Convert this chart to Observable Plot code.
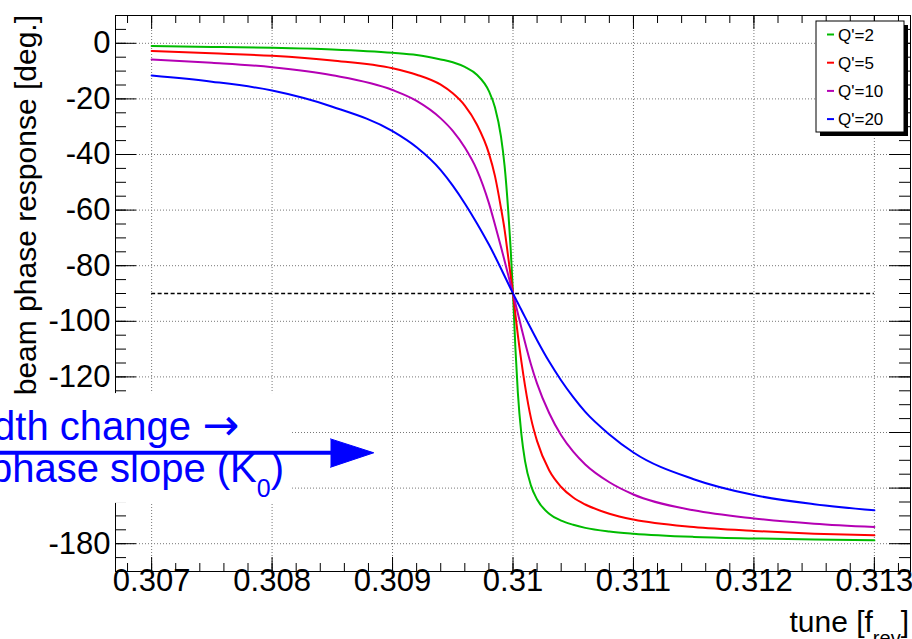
<!DOCTYPE html>
<html><head><meta charset="utf-8">
<script src="https://cdn.jsdelivr.net/npm/d3@7"></script>
<script src="https://cdn.jsdelivr.net/npm/@observablehq/plot@0.6"></script>
<style>
html,body{margin:0;padding:0;background:#fff;}
#chart{width:912px;height:639px;overflow:hidden;position:relative;}
svg{display:block;}
</style></head><body><div id="chart"></div>
<script>
// ---- data ----
const tune = [0.307, 0.3075, 0.308, 0.3085, 0.309, 0.3092, 0.3094, 0.3095, 0.3096, 0.3097, 0.3098, 0.30985, 0.3099, 0.30993, 0.30996, 0.30998, 0.31, 0.31002, 0.31004, 0.31007, 0.3101, 0.31015, 0.3102, 0.3103, 0.3104, 0.3105, 0.3106, 0.3108, 0.311, 0.3115, 0.312, 0.3125, 0.313];
const phaseQ2 = [-1.0,-1.3,-1.6,-2.2,-3.4,-4.2,-5.8,-6.8,-8.5,-11.3,-17.2,-23,-33.5,-44,-60,-73.5,-90,-109.7,-125.5,-140.8,-150.3,-159.2,-164.1,-169.2,-171.7,-173.2,-174.3,-175.6,-176.4,-177.55,-178.1,-178.5,-178.8];
const phaseQ5 = [-2.8,-3.6,-4.5,-6.2,-9.0,-11.3,-14.9,-18,-22.4,-29.2,-39.6,-47.7,-59.2,-67,-76.8,-83.4,-90,-97.6,-104.9,-114.6,-123.2,-135,-143.1,-153.6,-159.6,-163.4,-165.9,-169.2,-171.3,-174,-175.4,-176.4,-177];
const phaseQ10 = [-5.8,-7.0,-8.6,-11.5,-16.8,-20.7,-27,-31.5,-37.5,-45.5,-57.5,-65.2,-73.2,-78.2,-83.3,-86.7,-90,-93.6,-97.1,-102.4,-107.6,-115.6,-122.4,-133,-141,-146.9,-151.5,-157.9,-162.3,-168,-170.9,-172.8,-174];
const phaseQ20 = [-11.6,-13.8,-17.0,-22.8,-31.6,-37.4,-45.6,-51.2,-57.6,-64.7,-72.4,-76.6,-81.0,-83.7,-86.4,-88.2,-90,-91.7,-93.4,-95.95,-98.5,-102.7,-106.8,-114.5,-121.3,-127.3,-132.6,-140.7,-147.2,-156.8,-162.5,-165.8,-168];
const seriesLabels = ["Q'=2", "Q'=5", "Q'=10", "Q'=20"];
const seriesColors = ["#00bb00", "#ff0000", "#b400b4", "#0000ff"];
const refPhase = -90;
const xTicks = [0.307, 0.308, 0.309, 0.31, 0.311, 0.312, 0.313];
const xTickLabels = ["0.307", "0.308", "0.309", "0.31", "0.311", "0.312", "0.313"];
const xMinorTicks = d3.range(0, 33).map(i => +(0.3068 + i * 0.0002).toFixed(4));
const yTicks = [0, -20, -40, -60, -80, -100, -120, -140, -160, -180];
const yTickLabels = ["0", "-20", "-40", "-60", "-80", "-100", "-120", "-140", "-160", "-180"];
const yMinorTicks = d3.range(-190, 11, 5);
const xTitle = ["tune [f", "rev", "]"];
const yTitle = "beam phase response [deg.]";
const noteLine1 = ["dth change ", "\u2192"];
const noteLine2 = ["phase slope (K", "0", ")"];

// ---- build table ----
const allPhases = [phaseQ2, phaseQ5, phaseQ10, phaseQ20];
const rows = seriesLabels.flatMap((s, i) => tune.map((t, j) => ({tune: t, phase: allPhases[i][j], series: s})));

// annotation box (in data units) hides part of the left axis, as in the reference
const box = {x1: 0.3055, x2: 0.30817, y1: -126.0, y2: -165.5};
const yLabelIdx = yTicks.map((d, i) => i).filter(i => !(yTicks[i] < box.y1 && yTicks[i] > box.y2));

const W = 912, H = 639, mL = 115, mR = 2, mT = 15, mB = 68;
const plotW = W - mL - mR, plotH = H - mT - mB;
const FONT = "'Liberation Sans', Arial, Helvetica, sans-serif";
const FS = 30, FT = 31;

const chart = Plot.plot({
  width: W, height: H,
  marginLeft: mL, marginRight: mR, marginTop: mT, marginBottom: mB,
  style: {fontFamily: FONT, background: "white", overflow: "visible"},
  x: {domain: [0.3067, 0.3133], axis: null},
  y: {domain: [-190, 10], axis: null},
  color: {domain: seriesLabels, range: seriesColors},
  marks: [
    // grid
    Plot.ruleX(xTicks, {stroke: "#777", strokeDasharray: "1,2", strokeWidth: 1}),
    Plot.ruleY(yTicks, {stroke: "#777", strokeDasharray: "1,2", strokeWidth: 1}),
    // curves
    Plot.line(rows, {x: "tune", y: "phase", z: "series", stroke: "series", strokeWidth: 2, curve: "monotone-x"}),
    // reference -90 line
    Plot.ruleY([refPhase], {x1: tune[0], x2: tune[tune.length - 1], stroke: "black", strokeWidth: 1.5, strokeDasharray: "4,2.5"}),
    // frame
    Plot.frame({stroke: "black", strokeWidth: 1}),
    // x ticks bottom/top
    Plot.tickX(xMinorTicks, {x: d => d, stroke: "black", insetTop: plotH - 8}),
    Plot.tickX(xTicks, {x: d => d, stroke: "black", insetTop: plotH - 14}),
    Plot.tickX(xMinorTicks, {x: d => d, stroke: "black", insetBottom: plotH - 8}),
    Plot.tickX(xTicks, {x: d => d, stroke: "black", insetBottom: plotH - 14}),
    // y ticks left/right
    Plot.tickY(yMinorTicks, {y: d => d, stroke: "black", insetRight: plotW - 11}),
    Plot.tickY(yTicks, {y: d => d, stroke: "black", insetRight: plotW - 21}),
    Plot.tickY(yMinorTicks, {y: d => d, stroke: "black", insetLeft: plotW - 11}),
    Plot.tickY(yTicks, {y: d => d, stroke: "black", insetLeft: plotW - 21}),
    // tick labels
    Plot.text(xTicks, {x: d => d, text: (d, i) => xTickLabels[i], frameAnchor: "bottom", dy: 19, fontSize: FT, fill: "black"}),
    Plot.text(yLabelIdx, {y: i => yTicks[i], text: i => yTickLabels[i], frameAnchor: "left", textAnchor: "end", dx: -5, fontSize: FT, fill: "black"}),
    // annotation white box
    Plot.rect([box], {x1: "x1", x2: "x2", y1: "y1", y2: "y2", fill: "white"}),
    // annotation arrow
    Plot.ruleY([-147.3], {x1: 0.3055, x2: 0.30850, stroke: "#0000ff", strokeWidth: 4}),
    Plot.line([[0.308485, -142.3], [0.308844, -147.3], [0.308485, -152.5]], {fill: "#0000ff", stroke: "#0000ff", strokeWidth: 1})
  ]
});

document.getElementById("chart").appendChild(chart);
const svg = d3.select(chart);

// axis titles
svg.append("text")
  .attr("transform", `translate(36,${mT}) rotate(-90)`)
  .attr("text-anchor", "end").attr("font-size", FS).attr("font-family", FONT).attr("fill", "black")
  .text(yTitle);

const xt = svg.append("text")
  .attr("x", 909).attr("y", 632)
  .attr("text-anchor", "end").attr("font-size", FS).attr("font-family", FONT).attr("fill", "black");
xt.append("tspan").text(xTitle[0]);
xt.append("tspan").attr("font-size", 20).attr("dy", 13).text(xTitle[1]);
xt.append("tspan").attr("dy", -13).text(xTitle[2]);

// blue annotation text
const n1 = svg.append("text")
  .attr("x", 239).attr("y", 440)
  .attr("text-anchor", "end").attr("font-size", 40).attr("font-family", FONT).attr("fill", "#0000ff");
n1.append("tspan").text(noteLine1[0]);
n1.append("tspan").attr("font-family", "'DejaVu Sans', sans-serif").attr("font-size", 44).text(noteLine1[1]);
const n2 = svg.append("text")
  .attr("x", 284).attr("y", 482)
  .attr("text-anchor", "end").attr("font-size", 40).attr("font-family", FONT).attr("fill", "#0000ff");
n2.append("tspan").text(noteLine2[0]);
n2.append("tspan").attr("font-size", 25).attr("dy", 15).text(noteLine2[1]);
n2.append("tspan").attr("dy", -15).text(noteLine2[2]);

// legend
const lg = svg.append("g");
const LX = 816, LY = 21, LW = 88, LH = 111;
lg.append("rect").attr("x", LX + 4).attr("y", LY + 4).attr("width", LW).attr("height", LH).attr("fill", "black");
lg.append("rect").attr("x", LX).attr("y", LY).attr("width", LW).attr("height", LH).attr("fill", "white").attr("stroke", "black").attr("stroke-width", 1);
seriesLabels.forEach((s, i) => {
  const cy = LY + 13.5 + i * 28.2;
  lg.append("line").attr("x1", 827).attr("x2", 834).attr("y1", cy).attr("y2", cy).attr("stroke", seriesColors[i]).attr("stroke-width", 2);
  lg.append("text").attr("x", 838).attr("y", cy).attr("dy", "0.36em").attr("text-anchor", "start")
    .attr("font-size", 17).attr("font-family", FONT).attr("fill", "black").text(s);
});
</script>
</body></html>
